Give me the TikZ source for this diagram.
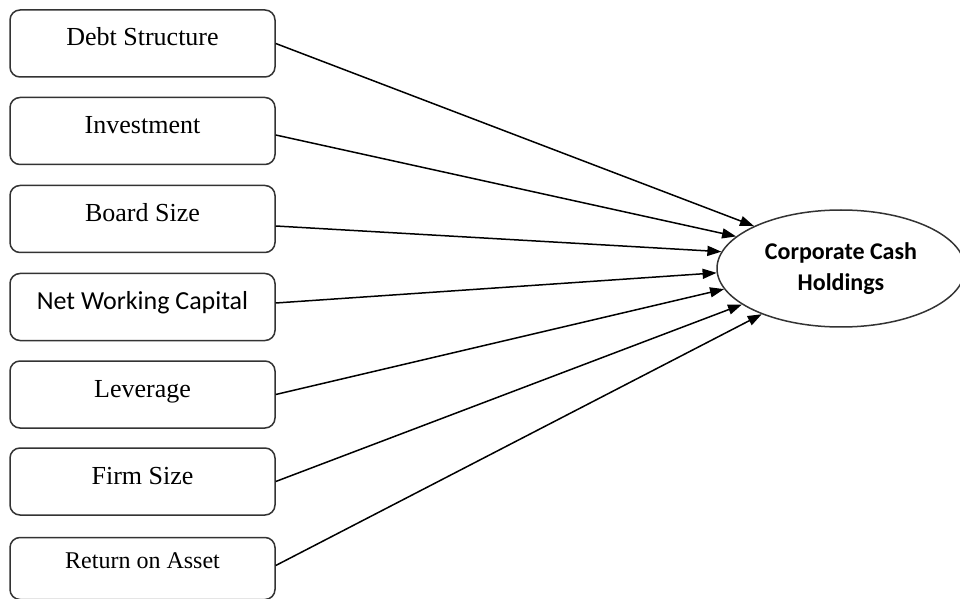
\documentclass[tikz,border=0pt]{standalone}
\usepackage{fontspec}
\setmainfont{Liberation Serif}
\newfontfamily\calibri{Carlito}
\usetikzlibrary{arrows.meta,shapes.geometric}

\begin{document}
\begin{tikzpicture}[x=0.5pt,y=-0.5pt,
    factor/.style={draw=black!80,line width=0.75pt,rounded corners=5pt,
      minimum width=132.5pt,inner xsep=0pt,inner ysep=0pt,
      text height=18pt,text depth=15.5pt,font=\fontsize{13}{15}\selectfont},
    link/.style={line width=0.75pt,-{Triangle[length=7pt,width=5pt]}}]
    \useasboundingbox (0,0) rectangle (960,599);
    % determinants
    \node[factor] (debt) at (142.5,43.5) {Debt Structure};
    \node[factor] (invest) at (142.5,131) {Investment};
    \node[factor] (board) at (142.5,219) {Board Size};
    \node[factor,font=\calibri\fontsize{13}{15}\selectfont] (nwc) at (142.5,307) {Net Working Capital};
    \node[factor] (lev) at (142.5,394.5) {Leverage};
    \node[factor] (firm) at (142.5,481.5) {Firm Size};
    \node[factor,font=\fontsize{12}{14}\selectfont,text height=15.5pt] (roa) at (142.5,568.5) {Return on Asset};
    % outcome
    \node[draw=black!80,ellipse,line width=0.75pt,inner sep=0pt,
      minimum width=124pt,minimum height=58.5pt,align=center,
      font=\calibri\bfseries\fontsize{12}{15.5}\selectfont] (cash) at (841,268.5) {Corporate Cash\\Holdings};
    \draw[link] (debt.east) -- (cash.154.7);
    \draw[link] ([yshift=-2pt]invest.east) -- (cash.163.2);
    \draw[link] ([yshift=-3.5pt]board.east) -- (cash.172);
    \draw[link] ([yshift=2pt]nwc.east) -- (cash.182.1);
    \draw[link] (lev.east) -- (cash.190.3);
    \draw[link] (firm.east) -- (cash.200.3);
    \draw[link] ([yshift=1.5pt]roa.east) -- (cash.210.4);
\end{tikzpicture}
\end{document}
